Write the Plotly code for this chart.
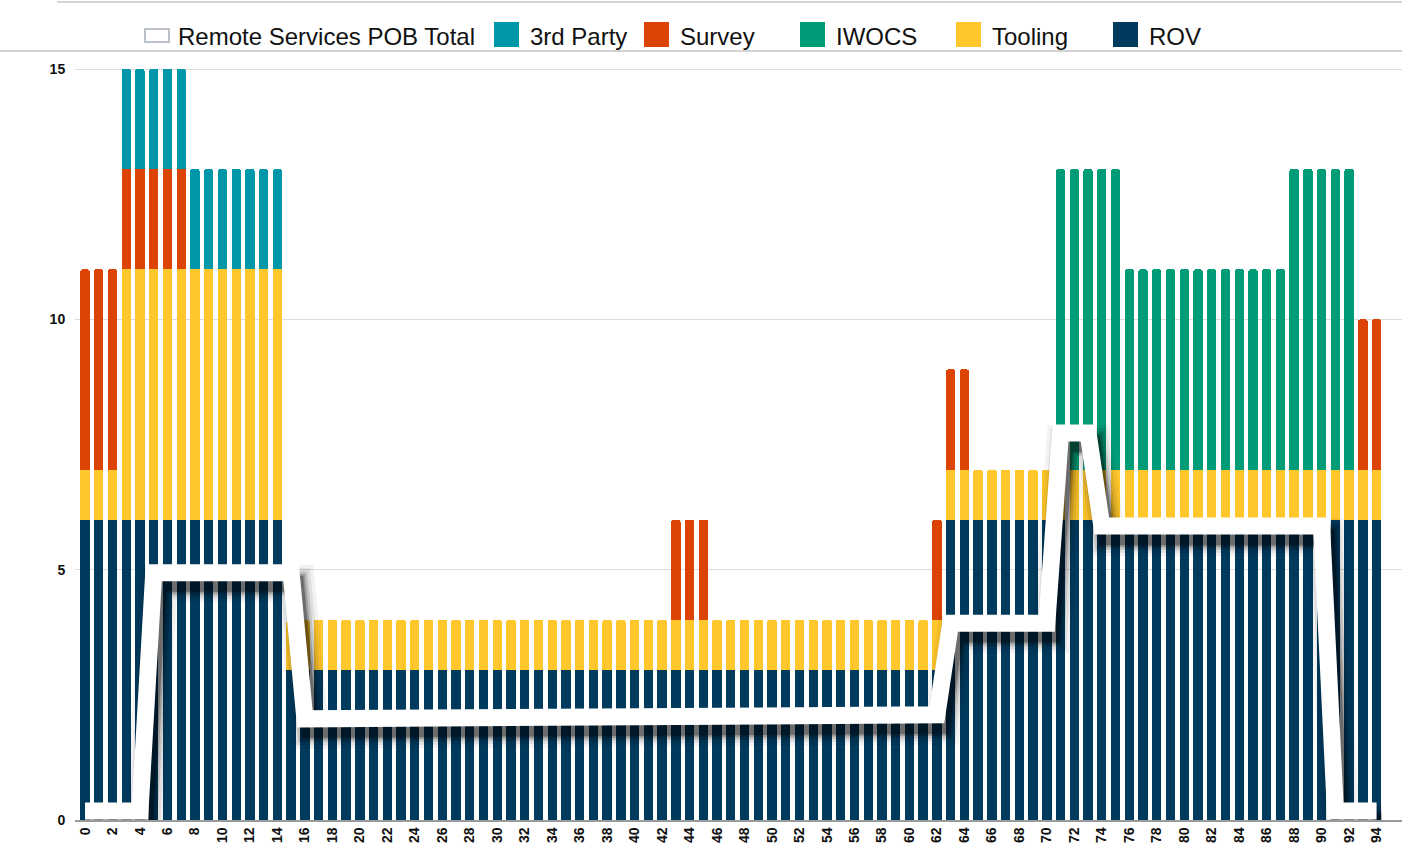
import plotly.graph_objects as go

# ---------------- data ----------------
periods = [0, 1, 2, 3, 4, 5, 6, 7, 8, 9, 10, 11, 12, 13, 14, 15, 16, 17, 18, 19,
           20, 21, 22, 23, 24, 25, 26, 27, 28, 29, 30, 31, 32, 33, 34, 35, 36, 37, 38, 39,
           40, 41, 42, 43, 44, 45, 46, 47, 48, 49, 50, 51, 52, 53, 54, 55, 56, 57, 58, 59,
           60, 61, 62, 63, 64, 65, 66, 67, 68, 69, 70, 71, 72, 73, 74, 75, 76, 77, 78, 79,
           80, 81, 82, 83, 84, 85, 86, 87, 88, 89, 90, 91, 92, 93, 94]

x_ticks = [0, 2, 4, 6, 8, 10, 12, 14, 16, 18, 20, 22, 24, 26, 28, 30, 32, 34, 36, 38,
           40, 42, 44, 46, 48, 50, 52, 54, 56, 58, 60, 62, 64, 66, 68, 70, 72, 74, 76, 78,
           80, 82, 84, 86, 88, 90, 92, 94]
y_ticks = [0, 5, 10, 15]

rov = [6, 6, 6, 6, 6, 6, 6, 6, 6, 6, 6, 6, 6, 6, 6, 3, 3, 3, 3, 3,
       3, 3, 3, 3, 3, 3, 3, 3, 3, 3, 3, 3, 3, 3, 3, 3, 3, 3, 3, 3,
       3, 3, 3, 3, 3, 3, 3, 3, 3, 3, 3, 3, 3, 3, 3, 3, 3, 3, 3, 3,
       3, 3, 3, 6, 6, 6, 6, 6, 6, 6, 6, 6, 6, 6, 6, 6, 6, 6, 6, 6,
       6, 6, 6, 6, 6, 6, 6, 6, 6, 6, 6, 6, 6, 6, 6]

tooling = [1, 1, 1, 5, 5, 5, 5, 5, 5, 5, 5, 5, 5, 5, 5, 1, 1, 1, 1, 1,
           1, 1, 1, 1, 1, 1, 1, 1, 1, 1, 1, 1, 1, 1, 1, 1, 1, 1, 1, 1,
           1, 1, 1, 1, 1, 1, 1, 1, 1, 1, 1, 1, 1, 1, 1, 1, 1, 1, 1, 1,
           1, 1, 1, 1, 1, 1, 1, 1, 1, 1, 1, 1, 1, 1, 1, 1, 1, 1, 1, 1,
           1, 1, 1, 1, 1, 1, 1, 1, 1, 1, 1, 1, 1, 1, 1]

iwocs = [0, 0, 0, 0, 0, 0, 0, 0, 0, 0, 0, 0, 0, 0, 0, 0, 0, 0, 0, 0,
         0, 0, 0, 0, 0, 0, 0, 0, 0, 0, 0, 0, 0, 0, 0, 0, 0, 0, 0, 0,
         0, 0, 0, 0, 0, 0, 0, 0, 0, 0, 0, 0, 0, 0, 0, 0, 0, 0, 0, 0,
         0, 0, 0, 0, 0, 0, 0, 0, 0, 0, 0, 6, 6, 6, 6, 6, 4, 4, 4, 4,
         4, 4, 4, 4, 4, 4, 4, 4, 6, 6, 6, 6, 6, 0, 0]

survey = [4, 4, 4, 2, 2, 2, 2, 2, 0, 0, 0, 0, 0, 0, 0, 0, 0, 0, 0, 0,
          0, 0, 0, 0, 0, 0, 0, 0, 0, 0, 0, 0, 0, 0, 0, 0, 0, 0, 0, 0,
          0, 0, 0, 2, 2, 2, 0, 0, 0, 0, 0, 0, 0, 0, 0, 0, 0, 0, 0, 0,
          0, 0, 2, 2, 2, 0, 0, 0, 0, 0, 0, 0, 0, 0, 0, 0, 0, 0, 0, 0,
          0, 0, 0, 0, 0, 0, 0, 0, 0, 0, 0, 0, 0, 3, 3]

third_party = [0, 0, 0, 2, 2, 2, 2, 2, 2, 2, 2, 2, 2, 2, 2, 0, 0, 0, 0, 0,
               0, 0, 0, 0, 0, 0, 0, 0, 0, 0, 0, 0, 0, 0, 0, 0, 0, 0, 0, 0,
               0, 0, 0, 0, 0, 0, 0, 0, 0, 0, 0, 0, 0, 0, 0, 0, 0, 0, 0, 0,
               0, 0, 0, 0, 0, 0, 0, 0, 0, 0, 0, 0, 0, 0, 0, 0, 0, 0, 0, 0,
               0, 0, 0, 0, 0, 0, 0, 0, 0, 0, 0, 0, 0, 0, 0]

pob_total = [0.18, 0.18, 0.18, 0.18, 0.18, 4.94, 4.94, 4.94, 4.94, 4.94,
             4.94, 4.94, 4.94, 4.94, 4.94, 4.94, 2.02, 2.02, 2.02, 2.02,
             2.02, 2.03, 2.03, 2.03, 2.03, 2.03, 2.04, 2.04, 2.04, 2.04,
             2.04, 2.05, 2.05, 2.05, 2.05, 2.05, 2.06, 2.06, 2.06, 2.06,
             2.06, 2.07, 2.07, 2.07, 2.07, 2.07, 2.08, 2.08, 2.08, 2.08,
             2.08, 2.09, 2.09, 2.09, 2.09, 2.09, 2.10, 2.10, 2.10, 2.10,
             2.10, 2.10, 2.10, 3.93, 3.93, 3.93, 3.93, 3.93, 3.93, 3.93,
             3.93, 7.73, 7.73, 7.73, 5.87, 5.87, 5.87, 5.87, 5.87, 5.87,
             5.87, 5.87, 5.87, 5.87, 5.87, 5.87, 5.87, 5.87, 5.87, 5.87,
             5.87, 0.18, 0.18, 0.18, 0.18]

series_names = ["ROV", "Tooling", "IWOCS", "Survey", "3rd Party"]
series_values = [rov, tooling, iwocs, survey, third_party]
series_colors = ["#003A5D", "#FFC72C", "#009B77", "#DC4405", "#0097A9"]

legend_names = ["3rd Party", "Survey", "IWOCS", "Tooling", "ROV"]
legend_colors = ["#0097A9", "#DC4405", "#009B77", "#FFC72C", "#003A5D"]

# ---------------- geometry ----------------
W, H = 1402, 844
ML, MR, MT, MB = 75, 0, 54, 24
PW, PH = W - ML - MR, H - MT - MB


def fx(px):
    return (px - ML) / PW


def fy(py):
    return (H - MB - py) / PH


fig = go.Figure()

for name, vals, color in zip(series_names, series_values, series_colors):
    fig.add_trace(go.Bar(x=periods, y=vals, name=name,
                         marker=dict(color=color, line=dict(width=0)),
                         showlegend=False))

# soft drop shadow under the total line
for width, alpha in [(38, 0.05), (31, 0.08), (25, 0.13), (20, 0.20), (16, 0.30)]:
    fig.add_trace(go.Scatter(x=[p + 0.35 for p in periods],
                             y=[v - 0.22 for v in pob_total],
                             mode="lines", hoverinfo="skip", showlegend=False,
                             line=dict(color=f"rgba(0,0,0,{alpha})", width=width)))

fig.add_trace(go.Scatter(x=periods, y=pob_total, mode="lines",
                         name="Remote Services POB Total", showlegend=False,
                         line=dict(color="white", width=17)))

shapes = []
annotations = []

# frame lines
shapes.append(dict(type="line", xref="paper", yref="paper",
                   x0=fx(57), x1=fx(1402), y0=fy(2), y1=fy(2),
                   line=dict(color="#d4d4d4", width=2)))
shapes.append(dict(type="line", xref="paper", yref="paper",
                   x0=fx(0), x1=fx(1402), y0=fy(51), y1=fy(51),
                   line=dict(color="#c4c4c4", width=1.5)))

# legend: outline box for the total line
shapes.append(dict(type="rect", xref="paper", yref="paper",
                   x0=fx(145), x1=fx(169), y0=fy(29), y1=fy(42),
                   fillcolor="white", line=dict(color="#b9c0c8", width=2)))
annotations.append(dict(text="Remote Services POB Total", xref="paper", yref="paper",
                        x=fx(176), y=fy(36), xanchor="left", yanchor="middle",
                        showarrow=False, font=dict(size=24, color="#111")))

legend_x = [494, 644, 800, 956, 1113]
for name, color, x0 in zip(legend_names, legend_colors, legend_x):
    shapes.append(dict(type="rect", xref="paper", yref="paper",
                       x0=fx(x0), x1=fx(x0 + 25), y0=fy(22), y1=fy(47),
                       fillcolor=color, line=dict(width=0)))
    annotations.append(dict(text=name, xref="paper", yref="paper",
                            x=fx(x0 + 34), y=fy(36), xanchor="left", yanchor="middle",
                            showarrow=False, font=dict(size=24, color="#111")))

fig.update_layout(
    width=W, height=H,
    margin=dict(l=ML, r=MR, t=MT, b=MB),
    barmode="stack", bargap=0.32, barcornerradius=2,
    plot_bgcolor="white", paper_bgcolor="white",
    showlegend=False,
    font=dict(family="Arial, Liberation Sans, sans-serif", color="#111"),
    shapes=shapes, annotations=annotations,
)

fig.update_xaxes(range=[-0.73, 95.85], tickmode="array", tickvals=x_ticks,
                 ticktext=[str(t) for t in x_ticks], tickangle=-90,
                 tickfont=dict(size=14, color="#111", weight="bold"),
                 showgrid=False, zeroline=False, showline=True,
                 linecolor="#9a9a9a", linewidth=1.5, ticks="", automargin=False)

fig.update_yaxes(range=[0, 15.3], tickmode="array", tickvals=y_ticks,
                 ticktext=[str(t) for t in y_ticks],
                 tickfont=dict(size=14, color="#111", weight="bold"),
                 showgrid=True, gridcolor="#dcdcdc", gridwidth=1,
                 zeroline=False, showline=False,
                 ticks="outside", ticklen=6, tickcolor="rgba(0,0,0,0)",
                 automargin=False)

fig.write_html("out.html",
               config={"displayModeBar": False},
               post_script="document.body.style.margin='0';"
                           "document.body.style.overflow='hidden';")
